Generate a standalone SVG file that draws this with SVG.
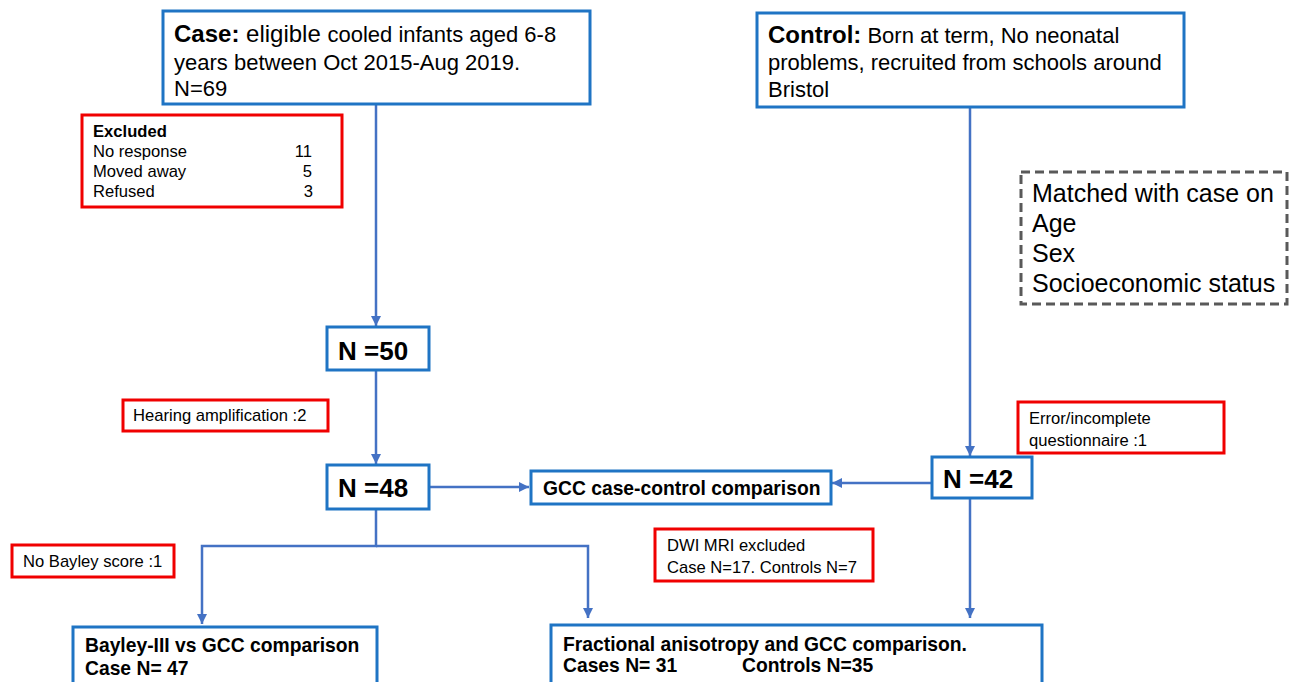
<svg xmlns="http://www.w3.org/2000/svg" width="1290" height="682" viewBox="0 0 1290 682">
<defs>
<marker id="ah" viewBox="0 0 10 10" refX="10" refY="5" markerWidth="10" markerHeight="10" markerUnits="userSpaceOnUse" orient="auto">
<path d="M0,0 L10,5 L0,10 z" fill="#4472c4"/>
</marker>
</defs>
<style>
text{font-family:"Liberation Sans",Arial,sans-serif;fill:#000}
.bx{fill:#fff;stroke:#1f74c4;stroke-width:3}
.rb{fill:#fff;stroke:#f00000;stroke-width:3}
.db{fill:#fff;stroke:#595959;stroke-width:3;stroke-dasharray:9,5}
.cn{fill:none;stroke:#4472c4;stroke-width:2.5}
.t22{font-size:22px}
.t16{font-size:16.6px}
.b19{font-size:19.3px;font-weight:bold}
.b26{font-size:26px;font-weight:bold}
.t25{font-size:25px}
</style>
<rect width="1290" height="682" fill="#fff"/>
<g id="connectors">
<line class="cn" x1="376" y1="104" x2="376" y2="326" marker-end="url(#ah)"/>
<line class="cn" x1="376" y1="370" x2="376" y2="464" marker-end="url(#ah)"/>
<line class="cn" x1="429" y1="487" x2="529" y2="487" marker-end="url(#ah)"/>
<line class="cn" x1="970" y1="107" x2="970" y2="456" marker-end="url(#ah)"/>
<line class="cn" x1="932" y1="483" x2="832" y2="483" marker-end="url(#ah)"/>
<polyline class="cn" points="376,509 376,546 202,546 202,624" marker-end="url(#ah)"/>
<polyline class="cn" points="376,546 588,546 588,618" marker-end="url(#ah)"/>
<line class="cn" x1="970" y1="498" x2="970" y2="618" marker-end="url(#ah)"/>
</g>
<g id="case">
<rect class="bx" x="163" y="11" width="427" height="93"/>
<text x="174" y="42" class="t22"><tspan font-weight="bold" font-size="24">Case:</tspan><tspan font-size="24"> eligible </tspan>cooled infants aged 6-8</text>
<text x="174" y="70" class="t22">years between Oct 2015-Aug 2019.</text>
<text x="174" y="96" class="t22">N=69</text>
</g>
<g id="control">
<rect class="bx" x="757" y="13" width="427" height="94"/>
<text x="768" y="43" class="t22"><tspan font-weight="bold" font-size="24">Control:</tspan> Born at term, No neonatal</text>
<text x="768" y="70" class="t22">problems, recruited from schools around</text>
<text x="768" y="97" class="t22">Bristol</text>
</g>
<g id="excluded">
<rect class="rb" x="82" y="115" width="260" height="92"/>
<text x="93" y="137" class="t16" font-weight="bold">Excluded</text>
<text x="93" y="157" class="t16">No response</text>
<text x="312" y="157" class="t16" text-anchor="end">11</text>
<text x="93" y="177" class="t16">Moved away</text>
<text x="312" y="177" class="t16" text-anchor="end">5</text>
<text x="93" y="197" class="t16">Refused</text>
<text x="313" y="197" class="t16" text-anchor="end">3</text>
</g>
<g id="matched">
<rect class="db" x="1021" y="172" width="266" height="132"/>
<text x="1032" y="202" class="t25">Matched with case on</text>
<text x="1032" y="232" class="t25">Age</text>
<text x="1032" y="262" class="t25">Sex</text>
<text x="1032" y="292" class="t25">Socioeconomic status</text>
</g>
<g id="n50">
<rect class="bx" x="327" y="327" width="102" height="43"/>
<text x="338" y="360" class="b26">N =50</text>
</g>
<g id="hearing">
<rect class="rb" x="123" y="400" width="205" height="31"/>
<text x="133" y="421" class="t16">Hearing amplification :2</text>
</g>
<g id="n48">
<rect class="bx" x="327" y="465" width="102" height="44"/>
<text x="338" y="497" class="b26">N =48</text>
</g>
<g id="gcc">
<rect class="bx" x="531" y="471" width="300" height="33"/>
<text x="543" y="495" class="b19">GCC case-control comparison</text>
</g>
<g id="n42">
<rect class="bx" x="932" y="457" width="100" height="41"/>
<text x="943" y="488" class="b26">N =42</text>
</g>
<g id="error">
<rect class="rb" x="1018" y="402" width="206" height="51"/>
<text x="1029" y="424" class="t16">Error/incomplete</text>
<text x="1029" y="446" class="t16">questionnaire :1</text>
</g>
<g id="nobayley">
<rect class="rb" x="12" y="545" width="162" height="32"/>
<text x="23" y="567" class="t16">No Bayley score :1</text>
</g>
<g id="dwi">
<rect class="rb" x="655" y="529" width="218" height="52"/>
<text x="667" y="551" class="t16">DWI MRI excluded</text>
<text x="667" y="573" class="t16">Case N=17. Controls N=7</text>
</g>
<g id="bayley">
<rect class="bx" x="73" y="627" width="304" height="70"/>
<text x="85" y="652" class="b19">Bayley-III vs GCC comparison</text>
<text x="85" y="675" class="b19">Case N= 47</text>
</g>
<g id="fa">
<rect class="bx" x="551" y="625" width="491" height="70"/>
<text x="563" y="651" class="b19">Fractional anisotropy and GCC comparison.</text>
<text x="563" y="672" class="b19">Cases N= 31</text>
<text x="742" y="672" class="b19">Controls N=35</text>
</g>
</svg>
